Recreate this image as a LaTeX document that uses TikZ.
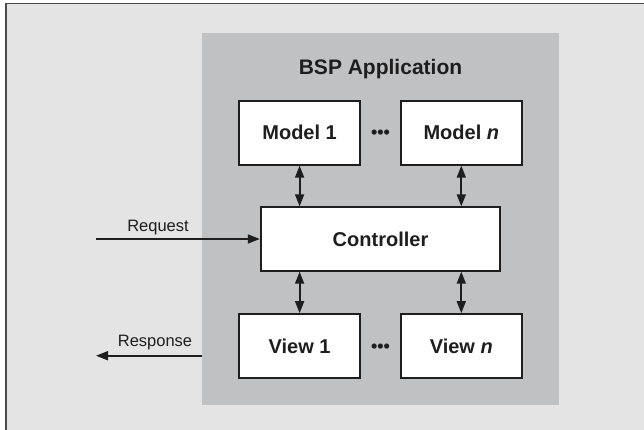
\documentclass[tikz,border=0pt]{standalone}
\usepackage{fontspec}
\setmainfont{Liberation Sans}
\usepackage{xcolor}
\usetikzlibrary{arrows.meta}
\definecolor{framebg}{HTML}{E4E4E4}
\definecolor{appbg}{HTML}{C0C1C3}
\definecolor{ink}{HTML}{1E1E1E}

\tikzset{
  block/.style={draw=ink, fill=white, line width=2pt, text=ink,
    font=\bfseries\fontsize{20}{24}\selectfont, inner sep=0pt},
  link/.style={ink, line width=1.8pt, {Triangle[length=12pt,width=9pt]}-{Triangle[length=12pt,width=9pt]}},
  flow/.style={ink, line width=1.8pt, -{Triangle[length=12pt,width=9pt]}},
  flowlabel/.style={text=ink, font=\fontsize{16.5}{20}\selectfont, inner sep=0pt}
}

\begin{document}
\begin{tikzpicture}[x=1pt,y=-1pt]
   \useasboundingbox (0,0) rectangle (644,429);
   \draw[fill=framebg, draw=ink!80, line width=1.5pt] (6,3.5) rectangle (670,450);
   \fill[appbg] (202,32.7) rectangle (558.5,405);
   \node[text=ink, font=\bfseries\fontsize{21}{25}\selectfont] (title) at (380.5,69) {BSP Application};

   \node[block, minimum width=120.4pt, minimum height=64pt] (m1) at (299.6,132.7) {Model 1};
   \node[block, minimum width=120.4pt, minimum height=64pt] (mn) at (461.3,132.7) {Model \textit{n}};
   \node[text=ink, font=\bfseries\fontsize{18}{20}\selectfont, inner sep=0pt] (mdots) at (380.5,134) {•••};

   \node[block, minimum width=239.4pt, minimum height=63.4pt] (ctrl) at (380.5,239) {Controller};

   \node[block, minimum width=120.4pt, minimum height=63.7pt] (v1) at (299.6,346) {View 1};
   \node[block, minimum width=120.4pt, minimum height=63.7pt] (vn) at (461.3,346) {View \textit{n}};
   \node[text=ink, font=\bfseries\fontsize{18}{20}\selectfont, inner sep=0pt] (vdots) at (380.5,348) {•••};

   % model/view <-> controller
   \draw[link] (m1.south) -- (ctrl.north -| m1.south);
   \draw[link] (mn.south) -- (ctrl.north -| mn.south);
   \draw[link] (ctrl.south -| v1.north) -- (v1.north);
   \draw[link] (ctrl.south -| vn.north) -- (vn.north);

   % request in, response out
   \coordinate (reqin) at (96,239);
   \coordinate (appedge) at (202,355.7);
   \coordinate (respout) at (96,355.7);
   \draw[flow] (reqin) -- (ctrl.west);
   \node[flowlabel] (req) at (158,228) {Request};
   \draw[flow] (appedge) -- (respout);
   \node[flowlabel] (resp) at (155,343) {Response};
\end{tikzpicture}
\end{document}
